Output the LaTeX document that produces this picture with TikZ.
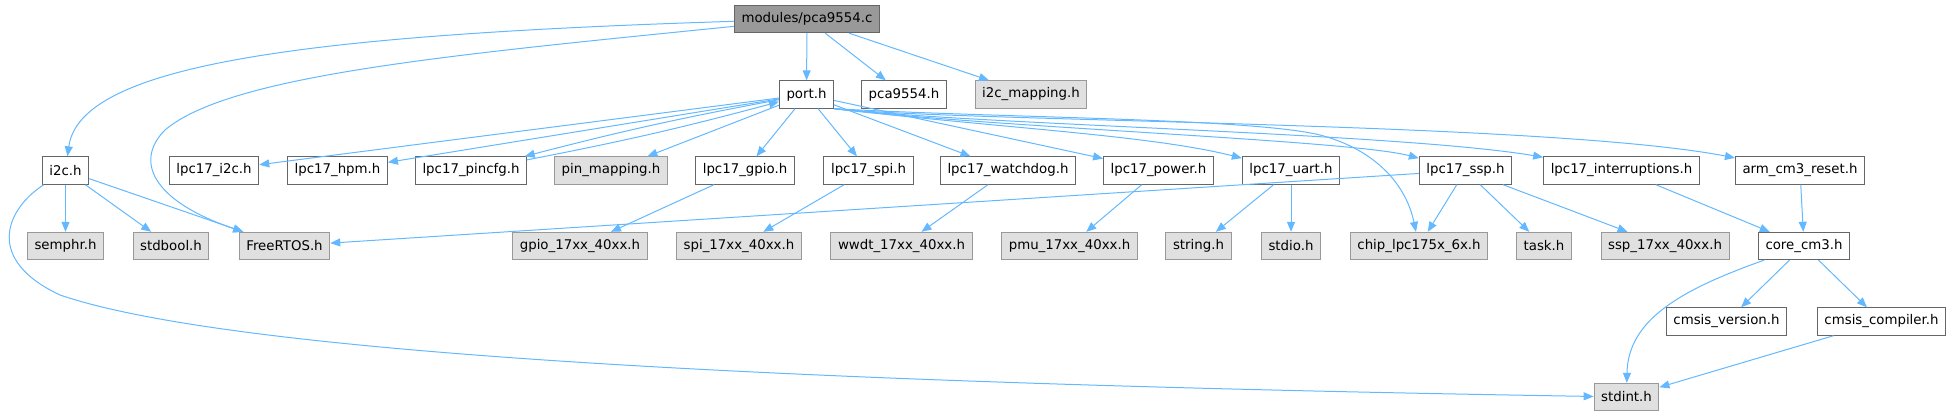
\documentclass[tikz,border=0pt]{standalone}
\usepackage{fontspec}
\setmainfont{DejaVu Sans}
\usetikzlibrary{arrows.meta}
\definecolor{edge}{RGB}{99,184,255}
\definecolor{frame}{RGB}{102,102,102}
\definecolor{extframe}{RGB}{153,153,153}
\definecolor{extfill}{RGB}{224,224,224}
\definecolor{rootfill}{RGB}{153,153,153}
\tikzset{
  >={Triangle[length=7.5pt,width=6pt]},
  hdr/.style={draw=frame,fill=white,line width=0.75pt,minimum height=20.5pt,
    inner xsep=5.3pt,inner ysep=0pt,font=\fontsize{10}{12}\selectfont},
  sys/.style={hdr,draw=extframe,fill=extfill},
  srcfile/.style={hdr,fill=rootfill},
  inc/.style={->,draw=edge,line width=0.75pt},
}

\begin{document}
\begin{tikzpicture}[x=0.75pt,y=-0.75pt]
  \useasboundingbox (0,0) rectangle (1955,417);
  % source file and first level
  \node[srcfile] (root) at (807,19) {modules/pca9554.c};
  \node[hdr] (port) at (806.5,94.5) {port.h};
  \node[hdr] (pca) at (904,94.5) {pca9554.h};
  \node[sys] (i2cmap) at (1031,94.5) {i2c\_mapping.h};
  % second level
  \node[hdr] (i2c) at (65.5,170.5) {i2c.h};
  \node[hdr] (li2c) at (214,170.5) {lpc17\_i2c.h};
  \node[hdr] (hpm) at (337.5,170.5) {lpc17\_hpm.h};
  \node[hdr] (pincfg) at (471,170.5) {lpc17\_pincfg.h};
  \node[sys] (pinmap) at (611,170.5) {pin\_mapping.h};
  \node[hdr] (gpio) at (745,170.5) {lpc17\_gpio.h};
  \node[hdr] (spi) at (868.5,170.5) {lpc17\_spi.h};
  \node[hdr] (wdt) at (1008,170.5) {lpc17\_watchdog.h};
  \node[hdr] (power) at (1158.5,170.5) {lpc17\_power.h};
  \node[hdr] (uart) at (1291,170.5) {lpc17\_uart.h};
  \node[hdr] (ssp) at (1465.5,170.5) {lpc17\_ssp.h};
  \node[hdr] (irq) at (1621.5,170.5) {lpc17\_interruptions.h};
  \node[hdr] (reset) at (1800,170.5) {arm\_cm3\_reset.h};
  % third level
  \node[sys] (semphr) at (65.5,246) {semphr.h};
  \node[sys] (stdbool) at (171,246) {stdbool.h};
  \node[sys] (rtos) at (284.5,246) {FreeRTOS.h};
  \node[sys] (gpiox) at (580,246) {gpio\_17xx\_40xx.h};
  \node[sys] (spix) at (739,246) {spi\_17xx\_40xx.h};
  \node[sys] (wwdt) at (901.5,246) {wwdt\_17xx\_40xx.h};
  \node[sys] (pmu) at (1069.5,246) {pmu\_17xx\_40xx.h};
  \node[sys] (string) at (1198.5,246) {string.h};
  \node[sys] (stdio) at (1291,246) {stdio.h};
  \node[sys] (chip) at (1419,246) {chip\_lpc175x\_6x.h};
  \node[sys] (task) at (1544,246) {task.h};
  \node[sys] (sspx) at (1665,246) {ssp\_17xx\_40xx.h};
  \node[hdr] (core) at (1804,246) {core\_cm3.h};
  % CMSIS
  \node[hdr] (cmver) at (1726.5,321.5) {cmsis\_version.h};
  \node[hdr] (cmcomp) at (1881.5,321.5) {cmsis\_compiler.h};
  \node[sys] (stdint) at (1626.5,397) {stdint.h};

  % includes of the source file
  \draw[inc] (root) .. controls (300,35) and (80,65) .. (i2c);
  \draw[inc] (root) .. controls (450,55) and (230,75) .. (165,130)
    .. controls (135,160) and (150,200) .. (rtos);
  \draw[inc] (root) -- (port);
  \draw[inc] (root) -- (pca);
  \draw[inc] (root) -- (i2cmap);
  % i2c.h
  \draw[inc] (i2c) -- (semphr);
  \draw[inc] (i2c) -- (stdbool);
  \draw[inc] (i2c) -- (rtos);
  \draw[inc] (i2c) .. controls (5,210) and (-15,260) .. (60,295)
    .. controls (250,360) and (900,385) .. (stdint);
  % port.h
  \draw[inc] (port) -- (li2c);
  \draw[inc] (port) -- (hpm);
  \draw[inc] (port) to[bend right=2] (pincfg);
  \draw[inc] (pincfg) to[bend right=2] (port);
  \draw[inc] (port) -- (pinmap);
  \draw[inc] (port) -- (gpio);
  \draw[inc] (port) -- (spi);
  \draw[inc] (port) -- (wdt);
  \draw[inc] (port) -- (power);
  \draw[inc] (port.south east) .. controls (1000,128) and (1150,135) .. (uart);
  \draw[inc] (port.south east) .. controls (1000,128) and (1350,140) .. (ssp);
  \draw[inc] (port.south east) .. controls (980,125) and (1400,133) .. (irq);
  \draw[inc] (port.south east) .. controls (960,122) and (1550,122) .. (reset);
  \draw[inc] (port.south east) .. controls (1000,118) and (1250,118) .. (1320,135)
    .. controls (1370,148) and (1405,180) .. (chip);
  % lpc17 drivers
  \draw[inc] (gpio) -- (gpiox);
  \draw[inc] (spi) -- (spix);
  \draw[inc] (wdt) -- (wwdt);
  \draw[inc] (power) -- (pmu);
  \draw[inc] (uart) -- (string);
  \draw[inc] (uart) -- (stdio);
  \draw[inc] (ssp) -- (rtos);
  \draw[inc] (ssp) -- (chip);
  \draw[inc] (ssp) -- (task);
  \draw[inc] (ssp) -- (sspx);
  \draw[inc] (irq) -- (core);
  \draw[inc] (reset) -- (core);
  % core_cm3.h
  \draw[inc] (core) .. controls (1680,290) and (1628,320) .. (stdint);
  \draw[inc] (core) -- (cmver);
  \draw[inc] (core) -- (cmcomp);
  \draw[inc] (cmcomp) -- (stdint);
\end{tikzpicture}
\end{document}
